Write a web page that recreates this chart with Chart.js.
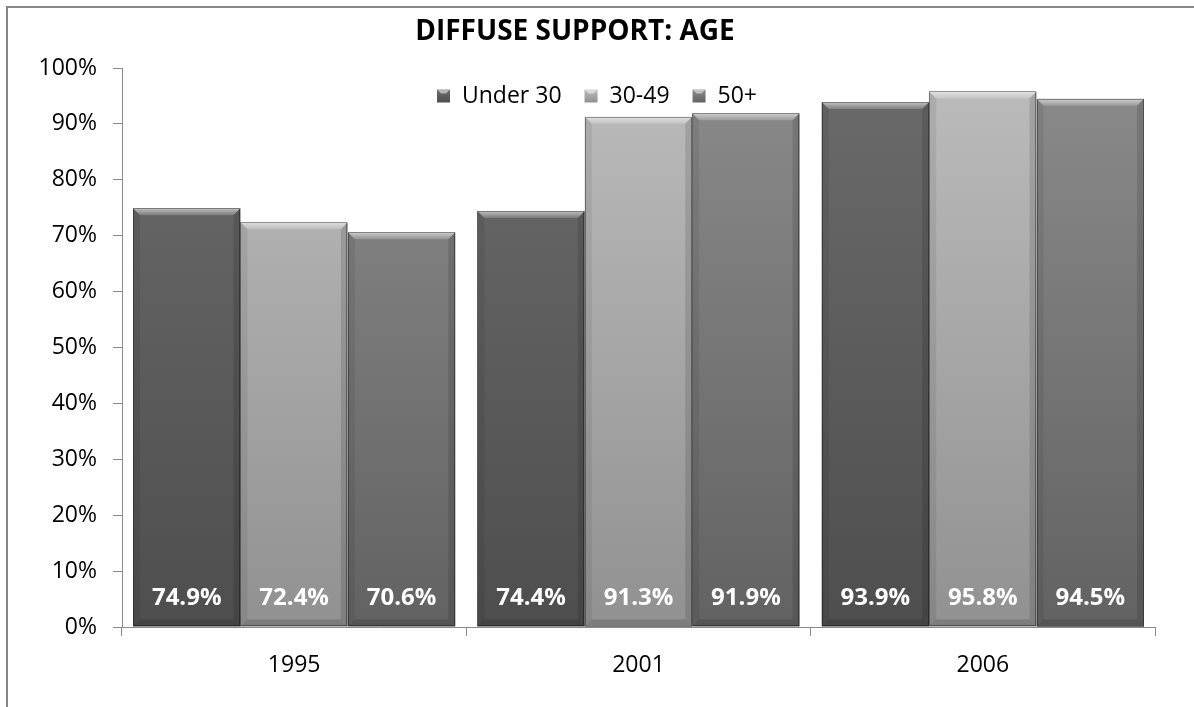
<!DOCTYPE html>
<html>
<head>
<meta charset="utf-8">
<title>Diffuse support: age</title>
<script src="https://cdn.jsdelivr.net/npm/chart.js@4.4.0/dist/chart.umd.min.js"></script>
<style>
  html, body { margin: 0; padding: 0; background: #fff; }
  #wrap { width: 1194px; height: 707px; }
</style>
</head>
<body>
<div id="wrap"><canvas id="grafico" width="1194" height="707"></canvas></div>
<script>
const chartTitle = "DIFFUSE SUPPORT: AGE";
const categories = ["1995", "2001", "2006"];
const seriesNames = ["Under 30", "30-49", "50+"];
const under30 = [74.9, 74.4, 93.9];
const age30to49 = [72.4, 91.3, 95.8];
const age50plus = [70.6, 91.9, 94.5];
const yTicks = [0, 10, 20, 30, 40, 50, 60, 70, 80, 90, 100];

const FONT = "'Open Sans', 'DejaVu Sans', sans-serif";
const AXIS_GREY = "#8a8a8a";

// top / bottom shade of each series' face
const shades = [
  ["#6b6b6b", "#4e4e4e"],
  ["#bcbcbc", "#919191"],
  ["#8b8b8b", "#626262"],
];

function faceGradient(i) {
  return function (context) {
    const chart = context.chart;
    const area = chart.chartArea;
    if (!area) return shades[i][0];
    const g = chart.ctx.createLinearGradient(0, area.top, 0, area.bottom);
    g.addColorStop(0, shades[i][0]);
    g.addColorStop(1, shades[i][1]);
    return g;
  };
}

// outer frame and white background
const framePlugin = {
  id: "frame",
  beforeDraw(chart) {
    const ctx = chart.ctx;
    ctx.save();
    ctx.fillStyle = "#fff";
    ctx.fillRect(0, 0, chart.width, chart.height);
    ctx.strokeStyle = "#878787";
    ctx.lineWidth = 2;
    ctx.beginPath();
    ctx.moveTo(7, chart.height);
    ctx.lineTo(7, 7);
    ctx.lineTo(chart.width, 7);
    ctx.stroke();
    ctx.restore();
  },
};

// bevel edges on the bars plus the value labels near the base
const barDecor = {
  id: "barDecor",
  afterDatasetsDraw(chart) {
    const ctx = chart.ctx;
    const b = 7;
    ctx.save();
    chart.data.datasets.forEach((ds, di) => {
      const meta = chart.getDatasetMeta(di);
      meta.data.forEach((el) => {
        const l = el.x - el.width / 2;
        const r = el.x + el.width / 2;
        const t = el.y;
        const bt = el.base;

        // top
        const g = ctx.createLinearGradient(0, t, 0, t + b);
        g.addColorStop(0, "rgba(255,255,255,0.6)");
        g.addColorStop(1, "rgba(255,255,255,0.15)");
        ctx.fillStyle = g;
        ctx.beginPath();
        ctx.moveTo(l, t); ctx.lineTo(r, t); ctx.lineTo(r - b, t + b); ctx.lineTo(l + b, t + b);
        ctx.closePath(); ctx.fill();

        // left
        ctx.fillStyle = "rgba(0,0,0,0.07)";
        ctx.beginPath();
        ctx.moveTo(l, t); ctx.lineTo(l + b, t + b); ctx.lineTo(l + b, bt - b); ctx.lineTo(l, bt);
        ctx.closePath(); ctx.fill();

        // right
        ctx.fillStyle = "rgba(0,0,0,0.12)";
        ctx.beginPath();
        ctx.moveTo(r, t); ctx.lineTo(r - b, t + b); ctx.lineTo(r - b, bt - b); ctx.lineTo(r, bt);
        ctx.closePath(); ctx.fill();

        // bottom
        ctx.fillStyle = "rgba(0,0,0,0.14)";
        ctx.beginPath();
        ctx.moveTo(l, bt); ctx.lineTo(l + b, bt - b); ctx.lineTo(r - b, bt - b); ctx.lineTo(r, bt);
        ctx.closePath(); ctx.fill();

        ctx.strokeStyle = "rgba(0,0,0,0.35)";
        ctx.lineWidth = 1;
        ctx.strokeRect(Math.round(l) + 0.5, Math.round(t) + 0.5, Math.round(r - l) - 1, Math.round(bt - t) - 1);
      });
    });

    ctx.fillStyle = "#fff";
    ctx.font = "bold 24px " + FONT;
    ctx.textAlign = "center";
    ctx.textBaseline = "middle";
    chart.data.datasets.forEach((ds, di) => {
      const meta = chart.getDatasetMeta(di);
      meta.data.forEach((el, i) => {
        ctx.fillText(ds.data[i].toFixed(1) + "%", el.x, el.base - 28);
      });
    });
    ctx.restore();
  },
};

// title and legend placed where the layout wants them
const headerPlugin = {
  id: "header",
  afterDraw(chart) {
    const ctx = chart.ctx;
    ctx.save();
    ctx.fillStyle = "#000";
    ctx.font = "bold 28px " + FONT;
    ctx.textAlign = "center";
    ctx.textBaseline = "middle";
    ctx.fillText(chartTitle, 575, 32);

    ctx.font = "23px " + FONT;
    ctx.textAlign = "left";
    let x = 437;
    const cy = 96;
    chart.data.datasets.forEach((ds, i) => {
      const s = 13;
      const g = ctx.createLinearGradient(0, cy - s / 2, 0, cy + s / 2);
      g.addColorStop(0, shades[i][0]);
      g.addColorStop(1, shades[i][1]);
      ctx.fillStyle = g;
      ctx.fillRect(x, cy - s / 2, s, s);
      ctx.fillStyle = "rgba(255,255,255,0.5)";
      ctx.beginPath();
      ctx.moveTo(x, cy - s / 2); ctx.lineTo(x + s, cy - s / 2);
      ctx.lineTo(x + s - 4, cy - s / 2 + 4); ctx.lineTo(x + 4, cy - s / 2 + 4);
      ctx.closePath(); ctx.fill();
      ctx.fillStyle = "#000";
      ctx.fillText(ds.label, x + s + 12, cy);
      x += s + 12 + ctx.measureText(ds.label).width + 23;
    });
    ctx.restore();
  },
};

new Chart(document.getElementById("grafico").getContext("2d"), {
  type: "bar",
  data: {
    labels: categories,
    datasets: [
      { label: seriesNames[0], data: under30, backgroundColor: faceGradient(0) },
      { label: seriesNames[1], data: age30to49, backgroundColor: faceGradient(1) },
      { label: seriesNames[2], data: age50plus, backgroundColor: faceGradient(2) },
    ],
  },
  options: {
    responsive: false,
    animation: false,
    devicePixelRatio: 1,
    layout: { padding: { top: 68, right: 39, bottom: 0, left: 0 } },
    datasets: {
      bar: { categoryPercentage: 0.936, barPercentage: 1, borderWidth: 0 },
    },
    plugins: {
      legend: { display: false },
      title: { display: false },
      tooltip: { enabled: false },
    },
    scales: {
      x: {
        grid: { offset: true, drawOnChartArea: false, drawTicks: true, tickLength: 9, color: AXIS_GREY },
        border: { color: AXIS_GREY, width: 1 },
        ticks: { color: "#000", font: { family: FONT, size: 23 }, padding: 16 },
        afterFit(scale) { scale.height = 80; },
      },
      y: {
        min: 0,
        max: 100,
        afterBuildTicks(scale) { scale.ticks = yTicks.map((v) => ({ value: v })); },
        grid: { drawOnChartArea: false, drawTicks: true, tickLength: 9, color: AXIS_GREY },
        border: { color: AXIS_GREY, width: 1 },
        ticks: {
          color: "#000",
          font: { family: FONT, size: 23 },
          padding: 16,
          callback: (v) => v + "%",
        },
        afterFit(scale) { scale.width = 122; },
      },
    },
  },
  plugins: [framePlugin, barDecor, headerPlugin],
});
</script>
</body>
</html>
